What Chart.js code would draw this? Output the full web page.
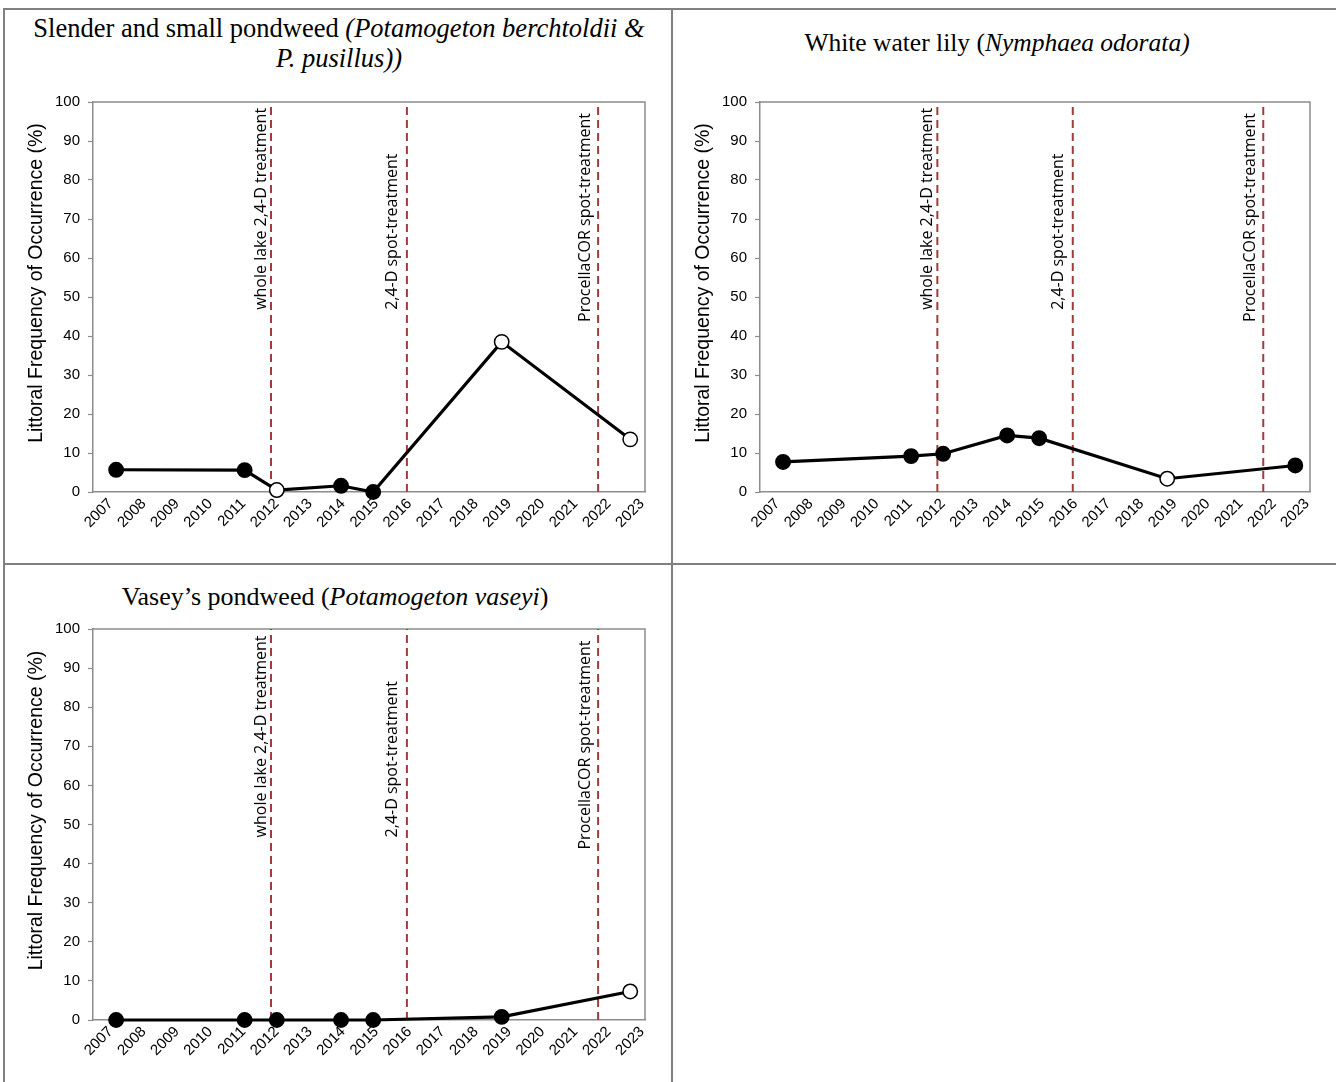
<!DOCTYPE html>
<html>
<head>
<meta charset="utf-8">
<title>Littoral frequency of occurrence</title>
<script src="https://cdn.jsdelivr.net/npm/chart.js@4.4.1/dist/chart.umd.min.js"></script>
<style>
  html, body { margin: 0; padding: 0; background: #fff; }
  body { width: 1336px; height: 1082px; position: relative; overflow: hidden; }
  .rule { position: absolute; background: #808080; }
  .title {
    position: absolute;
    font-family: "Liberation Serif", "Times New Roman", serif;
    font-size: 25.5px;
    line-height: 30px;
    color: #000;
    text-align: center;
    white-space: nowrap;
  }
  canvas { position: absolute; }
</style>
</head>
<body>
<!-- table rules -->
<div class="rule" style="left:3px;top:8px;width:1333px;height:2px"></div>
<div class="rule" style="left:3px;top:8px;width:2px;height:1074px"></div>
<div class="rule" style="left:671px;top:8px;width:2px;height:1074px"></div>
<div class="rule" style="left:3px;top:563px;width:1333px;height:2px"></div>

<div class="title" style="left:5px;top:13px;width:668px;font-size:26.5px">Slender and small pondweed <i>(Potamogeton berchtoldii &amp;<br>P. pusillus))</i></div>
<div class="title" style="left:673px;top:28px;width:648px">White water lily (<i>Nymphaea odorata)</i></div>
<div class="title" style="left:5px;top:582px;width:660px;font-size:26px">Vasey’s pondweed (<i>Potamogeton vaseyi</i>)</div>

<canvas id="c1" width="668" height="494" style="left:4px;top:70px"></canvas>
<canvas id="c2" width="664" height="494" style="left:672px;top:70px"></canvas>
<canvas id="c3" width="668" height="482" style="left:4px;top:600px"></canvas>

<script>
// Survey years and littoral frequency of occurrence (%)
const surveyYears = [2007, 2011, 2012, 2014, 2015, 2019, 2023];
const axisYears = [2007, 2008, 2009, 2010, 2011, 2012, 2013, 2014, 2015,
                   2016, 2017, 2018, 2019, 2020, 2021, 2022, 2023];
const yTicks = [0, 10, 20, 30, 40, 50, 60, 70, 80, 90, 100];

const slenderPct  = [5.7, 5.6, 0.5, 1.6, 0.0, 38.5, 13.5];
const slenderOpen = [false, false, true, false, false, true, true];

const lilyPct  = [7.7, 9.2, 9.8, 14.5, 13.8, 3.4, 6.8];
const lilyOpen = [false, false, false, false, false, true, false];

const vaseyPct  = [0.0, 0.0, 0.0, 0.0, 0.0, 0.8, 7.3];
const vaseyOpen = [false, false, false, false, false, false, true];

// Herbicide treatments (time of application)
const treatmentTimes  = [2011.82, 2016.05, 2022.0];
const treatmentLabels = ['whole lake 2,4-D treatment', '2,4-D spot-treatment', 'ProcellaCOR spot-treatment'];

const yTitle = 'Littoral Frequency of Occurrence (%)';

// ---- styling / layout ----
const SANS = '"Liberation Sans", Arial, sans-serif';
const NOTE_FONT = '16px "Open Sans", "Noto Sans", sans-serif';
const AXIS_GREY = '#8c8c8c';
const TREAT_RED = '#a23c3c';
const noteStart = [46.7, 46.7, 43.6];   // y value where each vertical note begins
const noteShift = [-10, -14, -13];      // px left of its dashed line

const framePlugin = {
  id: 'frame',
  beforeDatasetsDraw(chart) {
    const a = chart.chartArea, ctx = chart.ctx;
    ctx.save();
    ctx.strokeStyle = AXIS_GREY;
    ctx.lineWidth = 1.5;
    ctx.beginPath();
    ctx.moveTo(a.left, a.top);
    ctx.lineTo(a.right, a.top);
    ctx.lineTo(a.right, a.bottom);
    ctx.stroke();
    ctx.restore();
  }
};

const notesPlugin = {
  id: 'notes',
  afterDatasetsDraw(chart) {
    const ctx = chart.ctx, xs = chart.scales.xd, ys = chart.scales.y;
    ctx.save();
    ctx.font = NOTE_FONT;
    ctx.fillStyle = '#000';
    ctx.textAlign = 'left';
    ctx.textBaseline = 'middle';
    treatmentTimes.forEach((t, i) => {
      const x = xs.getPixelForValue(t) + noteShift[i];
      const y = ys.getPixelForValue(noteStart[i]);
      ctx.save();
      ctx.translate(x, y);
      ctx.rotate(-Math.PI / 2);
      ctx.fillText(treatmentLabels[i], 0, 0);
      ctx.restore();
    });
    ctx.restore();
  }
};

const yTitlePlugin = {
  id: 'ytitle',
  afterDraw(chart) {
    const a = chart.chartArea, ctx = chart.ctx;
    ctx.save();
    ctx.font = '19.5px ' + SANS;
    ctx.fillStyle = '#000';
    ctx.textAlign = 'center';
    ctx.textBaseline = 'middle';
    ctx.translate(a.left - 56, (a.top + a.bottom) / 2 - 14);
    ctx.rotate(-Math.PI / 2);
    ctx.fillText(yTitle, 0, 0);
    ctx.restore();
  }
};

function makeChart(id, values, openFlags, layout) {
  const series = {
    label: 'frequency',
    data: surveyYears.map((yr, i) => ({ x: yr, y: values[i] })),
    xAxisID: 'xd',
    borderColor: '#000',
    borderWidth: 3.2,
    tension: 0,
    clip: false,
    pointRadius: 7.2,
    pointHoverRadius: 7.2,
    pointBorderWidth: 1.5,
    pointBorderColor: '#000',
    pointBackgroundColor: openFlags.map(o => o ? '#fff' : '#000'),
    order: 0
  };
  const treatments = treatmentTimes.map(t => ({
    label: 'treatment',
    data: [{ x: t, y: 0 }, { x: t, y: 100 }],
    xAxisID: 'xd',
    borderColor: TREAT_RED,
    borderWidth: 2,
    borderDash: [8, 5],
    pointRadius: 0,
    clip: false,
    order: 1
  }));

  return new Chart(document.getElementById(id), {
    type: 'line',
    data: { datasets: [series, ...treatments] },
    options: {
      responsive: false,
      animation: false,
      devicePixelRatio: 1,
      layout: { padding: { left: 0, top: layout.top, right: layout.right, bottom: 0 } },
      plugins: { legend: { display: false }, tooltip: { enabled: false } },
      scales: {
        xd: { type: 'linear', display: false, min: 2006.28, max: 2023.46 },
        x: {
          type: 'linear',
          position: 'bottom',
          min: 2006.47,
          max: 2023.09,
          afterBuildTicks: s => { s.ticks = axisYears.map(v => ({ value: v })); },
          afterFit: s => { s.height = layout.xh; },
          ticks: {
            autoSkip: false,
            minRotation: 45,
            maxRotation: 45,
            padding: 3,
            color: '#000',
            font: { family: SANS, size: 15 },
            callback: v => String(v)
          },
          grid: { drawOnChartArea: false, drawTicks: false },
          border: { color: AXIS_GREY, width: 1.5 }
        },
        y: {
          min: 0,
          max: 100,
          afterBuildTicks: s => {
            const t = [];
            yTicks.forEach((v, i) => { t.push({ value: v }); if (i < yTicks.length - 1) t.push({ value: v + 5, minor: true }); });
            s.ticks = t;
          },
          afterFit: s => { s.width = layout.yw; },
          ticks: {
            padding: 8,
            color: '#000',
            font: { family: SANS, size: 15 },
            callback: v => (yTicks.includes(v) ? String(v) : '')
          },
          grid: { drawOnChartArea: false, drawTicks: true, tickLength: 5, tickColor: AXIS_GREY, tickWidth: 1.2 },
          border: { color: AXIS_GREY, width: 1.5 }
        }
      }
    },
    plugins: [framePlugin, notesPlugin, yTitlePlugin]
  });
}

makeChart('c1', slenderPct, slenderOpen, { top: 32, right: 27, yw: 89, xh: 72 });
makeChart('c2', lilyPct, lilyOpen, { top: 32, right: 26, yw: 88, xh: 72 });
makeChart('c3', vaseyPct, vaseyOpen, { top: 29, right: 27, yw: 89, xh: 62 });
</script>
</body>
</html>
